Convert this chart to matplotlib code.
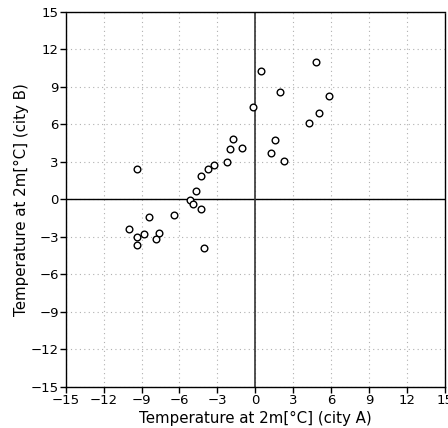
import matplotlib
matplotlib.use("Agg")
import matplotlib.pyplot as plt
import numpy as np

# temperature at 2m, city A (x) vs city B (y)
temp_a = [-1.73, -1.97, -1.05, -2.26, -3.29, -3.71, -4.29, -9.33, -4.71, -5.14,
          -4.92, -4.29, -6.4, -8.43, -10.02, -9.36, -8.83, -7.64, -7.88, -9.33,
          -4.05, 0.43, 1.99, -0.15, 4.79, 5.82, 5.05, 4.28, 1.54, 1.23, 2.25]
temp_b = [4.8, 4.02, 4.08, 3.0, 2.74, 2.42, 1.86, 2.4, 0.66, -0.08,
          -0.38, -0.75, -1.28, -1.42, -2.38, -2.99, -2.8, -2.72, -3.15, -3.68,
          -3.9, 10.29, 8.56, 7.36, 10.96, 8.24, 6.93, 6.13, 4.77, 3.7, 3.09]
ticks = [-15, -12, -9, -6, -3, 0, 3, 6, 9, 12, 15]

fig = plt.figure(figsize=(4.48, 4.28), dpi=100)
ax = fig.add_axes([0.1467, 0.0958, 0.8459, 0.8762])

ax.grid(True, color="#b0b0b0", linestyle=(0, (1, 3)), linewidth=0.8)
ax.axhline(0, color="black", linewidth=1.0, zorder=2)
ax.axvline(0, color="#333333", linewidth=1.2, zorder=2)

ax.plot(temp_a, temp_b, linestyle="none", marker="o", markersize=4.8,
        markerfacecolor="white", markeredgecolor="black", markeredgewidth=1.0, zorder=3)

ax.set_xlim(-15, 15)
ax.set_ylim(-15, 15)
ax.set_xticks(ticks)
ax.set_yticks(ticks)
ax.set_xticklabels([str(t).replace("-", "\u2212") for t in ticks])
ax.set_yticklabels([str(t).replace("-", "\u2212") for t in ticks])
ax.tick_params(direction="out", length=4, width=1, labelsize=9.5, pad=1)

for sp in ax.spines.values():
    sp.set_linestyle((0, (5, 1)))
    sp.set_linewidth(1.0)

ax.set_xlabel("Temperature at 2m[°C] (city A)", fontsize=10.8, labelpad=3)
ax.set_ylabel("Temperature at 2m[°C] (city B)", fontsize=10.8, labelpad=1)

plt.savefig("out.png", dpi=100)
